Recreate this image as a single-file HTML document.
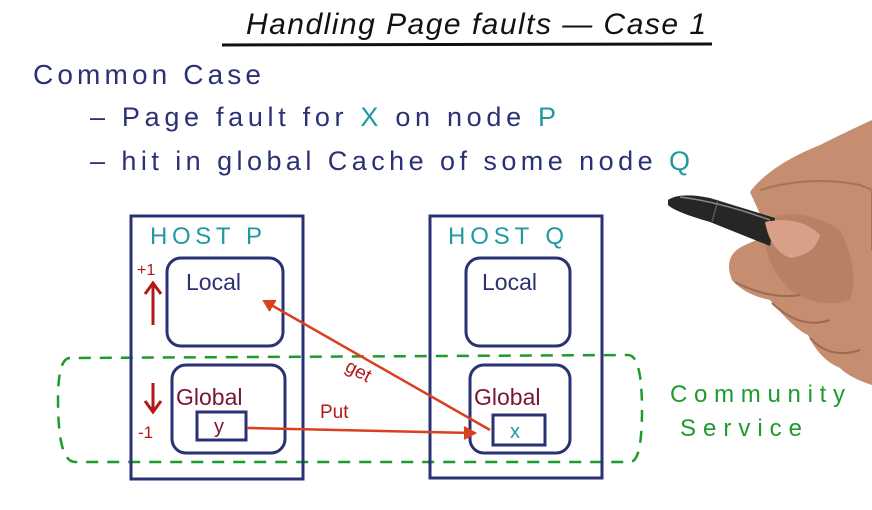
<!DOCTYPE html>
<html><head><meta charset="utf-8"><style>
html,body{margin:0;padding:0;background:#fff;width:872px;height:510px;overflow:hidden}
svg text{font-family:"Liberation Sans",sans-serif}
</style></head><body>
<svg width="872" height="510" viewBox="0 0 872 510" xmlns="http://www.w3.org/2000/svg">
<rect width="872" height="510" fill="#fff"/>
<!-- title -->
<text x="246" y="34" font-size="30" fill="#111" font-style="italic" textLength="460">Handling Page faults — Case 1</text>
<line x1="222" y1="45" x2="712" y2="44" stroke="#111" stroke-width="3"/>
<text x="33" y="84" font-size="28" fill="#2b3175" textLength="228">Common Case</text>
<text x="90" y="126" font-size="27" fill="#2b3175" textLength="466">– Page fault for <tspan fill="#1f9aa3">X</tspan> on node <tspan fill="#1f9aa3">P</tspan></text>
<text x="90" y="170" font-size="27" fill="#2b3175" textLength="600">– hit in global Cache of some node <tspan fill="#1f9aa3">Q</tspan></text>
<!-- green dashed region -->
<path d="M70 358 Q58 358 58 400 Q58 462 75 462 L630 462 Q642 462 642 410 Q642 355 628 355 Z" fill="none" stroke="#1e9a2e" stroke-width="2.5" stroke-dasharray="12 9"/>
<!-- Host P -->
<rect x="131" y="216" width="172" height="263" fill="none" stroke="#2b3175" stroke-width="3"/>
<text x="150" y="244" font-size="24" fill="#1f9aa3" textLength="112">HOST P</text>
<rect x="167" y="258" width="116" height="88" rx="14" fill="none" stroke="#2b3175" stroke-width="3"/>
<text x="186" y="290" font-size="23" fill="#2b3175">Local</text>
<rect x="172" y="365" width="113" height="88" rx="14" fill="none" stroke="#2b3175" stroke-width="3"/>
<text x="176" y="405" font-size="23" fill="#7a1530">Global</text>
<rect x="197" y="412" width="49" height="28" fill="none" stroke="#2b3175" stroke-width="3"/>
<text x="214" y="433" font-size="20" fill="#7a1530">y</text>
<!-- Host Q -->
<rect x="430" y="216" width="172" height="262" fill="none" stroke="#2b3175" stroke-width="3"/>
<text x="448" y="244" font-size="24" fill="#1f9aa3" textLength="116">HOST Q</text>
<rect x="466" y="258" width="104" height="88" rx="14" fill="none" stroke="#2b3175" stroke-width="3"/>
<text x="482" y="290" font-size="23" fill="#2b3175">Local</text>
<rect x="470" y="365" width="100" height="88" rx="14" fill="none" stroke="#2b3175" stroke-width="3"/>
<text x="474" y="405" font-size="23" fill="#7a1530">Global</text>
<rect x="493" y="415" width="52" height="30" fill="none" stroke="#2b3175" stroke-width="3"/>
<text x="510" y="438" font-size="20" fill="#1f9aa3">x</text>
<!-- +1 / -1 -->
<text x="137" y="275" font-size="16" fill="#b01818">+1</text>
<line x1="153" y1="325" x2="153" y2="284" stroke="#b01818" stroke-width="3"/>
<path d="M145 294 L153 283 L161 294" fill="none" stroke="#b01818" stroke-width="3"/>
<line x1="153" y1="383" x2="153" y2="410" stroke="#b01818" stroke-width="3"/>
<path d="M145 401 L153 412 L161 401" fill="none" stroke="#b01818" stroke-width="3"/>
<text x="138" y="438" font-size="17" fill="#b01818">-1</text>
<!-- arrows -->
<line x1="490" y1="430" x2="266" y2="302" stroke="#d9401f" stroke-width="2.5"/>
<path d="M276 301 L264 301 L270 311" fill="#d9401f" stroke="#d9401f" stroke-width="2"/>
<text x="345" y="378" font-size="19" fill="#b01818" transform="rotate(28 360 372)">get</text>
<line x1="247" y1="428" x2="472" y2="433" stroke="#d9401f" stroke-width="2.5"/>
<path d="M464 427 L475 433 L464 439" fill="#d9401f" stroke="#d9401f" stroke-width="2"/>
<text x="320" y="418" font-size="19" fill="#b01818">Put</text>
<!-- community service -->
<text x="670" y="402" font-size="24" fill="#1e9a2e" textLength="175">Community</text>
<text x="680" y="436" font-size="24" fill="#1e9a2e" textLength="122">Service</text>
<!-- hand -->
<path d="M750 192 Q770 165 820 145 Q850 130 872 120 L872 385 Q850 378 840 368 Q820 360 808 335 Q795 330 770 300 Q745 295 732 280 Q722 255 745 245 Q760 238 770 236 Z" fill="#c58e70"/>
<path d="M760 190 Q810 175 860 185 L872 190 L872 250" fill="none" stroke="#a87358" stroke-width="2"/>
<path d="M765 220 Q800 205 840 230 Q860 270 850 300 Q820 310 790 290 Q760 260 765 220 Z" fill="#b88064"/>
<path d="M735 282 Q770 300 800 295" fill="none" stroke="#a06a50" stroke-width="2"/>
<path d="M772 303 Q800 330 830 320" fill="none" stroke="#a06a50" stroke-width="2"/>
<path d="M810 338 Q830 360 860 350" fill="none" stroke="#a06a50" stroke-width="2"/>
<!-- pen -->
<path d="M668 200 Q680 192 710 198 L775 218 L770 246 L710 222 Q675 212 668 205 Z" fill="#262626"/>
<line x1="718" y1="200" x2="712" y2="222" stroke="#555" stroke-width="1.5"/>
<path d="M680 197 Q720 202 770 220" stroke="#888" stroke-width="1.5" fill="none"/>
<path d="M765 222 Q800 215 820 235 Q815 255 790 258 Q770 250 765 222 Z" fill="#d9a088"/>
</svg>
</body></html>
